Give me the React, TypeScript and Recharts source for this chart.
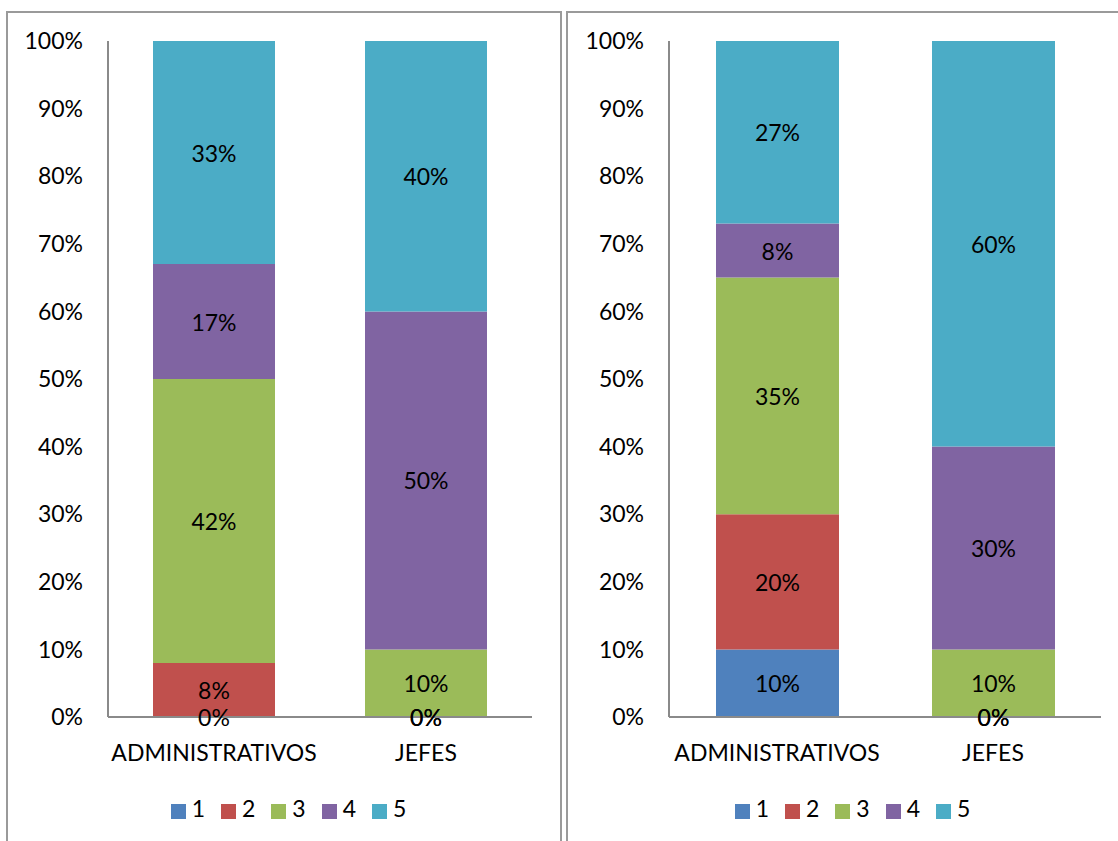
import { Bar, BarChart, LabelList, Legend, XAxis, YAxis } from "recharts"

const categories = ["ADMINISTRATIVOS", "JEFES"]
const seriesNames = ["1", "2", "3", "4", "5"]
const seriesColors = ["#4F81BD", "#C0504D", "#9BBB59", "#8064A2", "#4BACC6"]

// share of answers 1..5, in percent
const leftAdministrativos = [0, 8, 42, 17, 33]
const leftJefes = [0, 0, 10, 50, 40]
const rightAdministrativos = [10, 20, 35, 8, 27]
const rightJefes = [0, 0, 10, 30, 60]

const yTicks = [0, 10, 20, 30, 40, 50, 60, 70, 80, 90, 100]

const FONT = "Lato, 'Open Sans', sans-serif"
const FS = 23
const AXIS = "#8a8a8a"

const buildRows = (groups: number[][]) =>
  categories.map((name, i) => {
    const row: Record<string, string | number> = { name }
    seriesNames.forEach((s, j) => {
      row["s" + s] = groups[i][j]
    })
    return row
  })

// label in the middle of each segment; empty segments get theirs on the base
const renderValue = (props: any) => {
  const vb = props.viewBox ?? props
  const x = Number(vb.x) + Number(vb.width) / 2
  const y = Number(vb.y) + Number(vb.height) / 2
  return (
    <text
      x={x}
      y={y}
      textAnchor="middle"
      dominantBaseline="central"
      fill="#000"
      fontSize={FS}
      fontFamily={FONT}
    >
      {`${props.value}%`}
    </text>
  )
}

interface PanelChartProps {
  data: Record<string, string | number>[]
  width: number
  yAxisWidth: number
  marginRight: number
  barSize: number
  legendWidth: number
}

const PanelChart = ({ data, width, yAxisWidth, marginRight, barSize, legendWidth }: PanelChartProps) => (
  <BarChart
    width={width}
    height={829}
    data={data}
    margin={{ top: 29, right: marginRight, bottom: 18, left: 0 }}
    style={{ fontFamily: FONT }}
  >
    <XAxis
      dataKey="name"
      tickLine={false}
      tickSize={0}
      tickMargin={28}
      height={76}
      axisLine={{ stroke: AXIS, strokeWidth: 2 }}
      tick={{ fill: "#000", fontSize: FS, fontFamily: FONT }}
    />
    <YAxis
      domain={[0, 100]}
      ticks={yTicks}
      width={yAxisWidth}
      tickLine={false}
      tickSize={0}
      tickMargin={25}
      interval={0}
      axisLine={{ stroke: AXIS, strokeWidth: 2 }}
      tickFormatter={(v: number) => `${v}%`}
      tick={{ fill: "#000", fontSize: FS, fontFamily: FONT }}
    />
    <Legend
      verticalAlign="bottom"
      align="center"
      iconType="square"
      iconSize={15}
      wrapperStyle={{ fontFamily: FONT, fontSize: FS, lineHeight: "30px", left: 0, width: legendWidth }}
      formatter={(value: string) => (
        <span style={{ color: "#000", marginLeft: 2, marginRight: 6 }}>{value}</span>
      )}
    />
    {seriesNames.map((s, j) => (
      <Bar
        key={s}
        dataKey={"s" + s}
        name={s}
        stackId="a"
        fill={seriesColors[j]}
        barSize={barSize}
        minPointSize={0.01}
        isAnimationActive={false}
      >
        <LabelList dataKey={"s" + s} position="center" content={renderValue} />
      </Bar>
    ))}
  </BarChart>
)

export default function App() {
  const leftData = buildRows([leftAdministrativos, leftJefes])
  const rightData = buildRows([rightAdministrativos, rightJefes])

  const panel = (left: number, width: number) => ({
    position: "absolute" as const,
    left,
    top: 11,
    width,
    height: 850,
    border: "2px solid #9a9a9a",
    boxSizing: "border-box" as const,
  })

  return (
    <div
      style={{
        position: "absolute",
        left: 0,
        top: 0,
        width: 1118,
        height: 841,
        overflow: "hidden",
        background: "#fff",
      }}
    >
      <div style={panel(6, 556)} />
      <div style={panel(566, 580)} />
      <div style={{ position: "absolute", left: 8, top: 12 }}>
        <PanelChart data={leftData} width={552} yAxisWidth={100} marginRight={28} barSize={122} legendWidth={577} />
      </div>
      <div style={{ position: "absolute", left: 568, top: 12 }}>
        <PanelChart data={rightData} width={550} yAxisWidth={101} marginRight={17} barSize={123} legendWidth={585} />
      </div>
    </div>
  )
}
